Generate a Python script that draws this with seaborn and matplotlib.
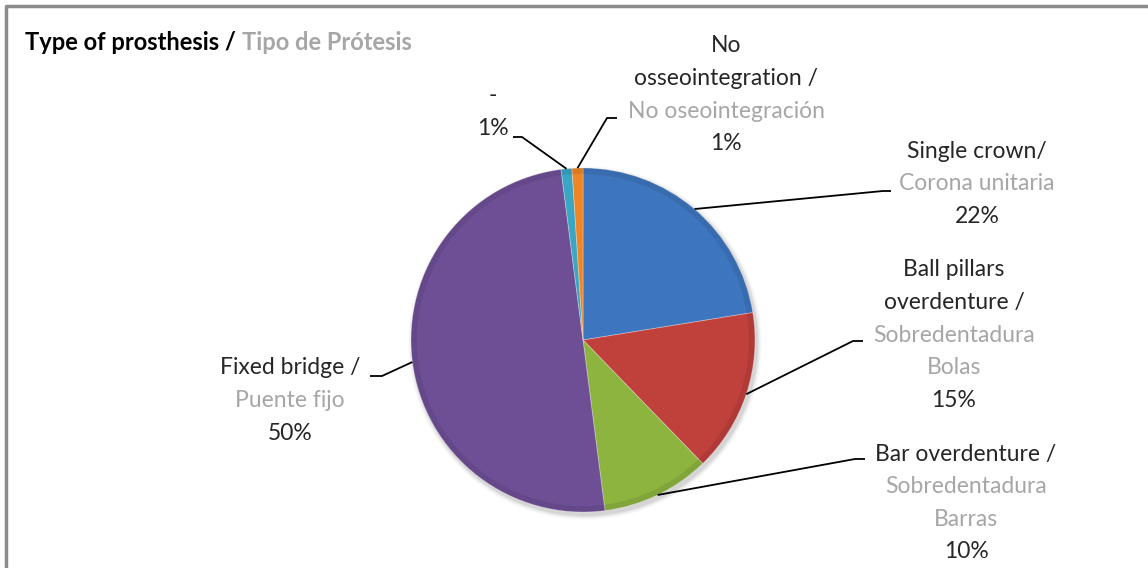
import numpy as np
import matplotlib
matplotlib.use("Agg")
import matplotlib.pyplot as plt
import seaborn as sns

sns.set_theme(style="white")
plt.rcParams['font.family'] = ['Lato', 'DejaVu Sans']

# data: slices clockwise from 12 o'clock
labels_en = ["Single crown/", "Ball pillars\noverdenture /", "Bar overdenture /",
             "Fixed bridge /", "-", "No\nosseointegration /"]
labels_es = ["Corona unitaria", "Sobredentadura\nBolas", "Sobredentadura\nBarras",
             "Puente fijo", "", "No oseointegración"]
counts = [22, 15, 10, 49, 1, 1]
colors = ["#3D76BE", "#C0403C", "#8DB43F", "#6E4F96", "#3AA6C3", "#EF8525"]

# layout (pixel space, y measured from top)
W, H = 1148, 568
cx, cy, rad = 583, 340, 172
label_pos = [(977, 151), (954, 270), (966, 454), (290, 368), (493, 96), (726, 46)]
knees = [((883, 191), (891, 191)), ((853, 341), (863, 341)), ((855, 459), (865, 459)),
         ((382, 376), (370, 376)), ((522, 137), (513, 137)), ((607, 118), (617, 118))]
line_h = 32.6
fs = 16.5

fig = plt.figure(figsize=(W / 100, H / 100), dpi=100)
ax = fig.add_axes([0, 0, 1, 1])

# soft shadow under the pie
for i, a in enumerate(np.linspace(0.05, 0.015, 5)):
    ax.add_patch(plt.Circle((cx + 2, H - cy - 3), rad + 1 + i, color='black', alpha=a, lw=0))

wedges, _ = ax.pie(counts, colors=colors, startangle=90, counterclock=False,
                   center=(cx, H - cy), radius=rad, frame=True,
                   wedgeprops=dict(linewidth=0.6, edgecolor=(1, 1, 1, 0.35)))
# darker rim for bevel look
ax.pie(counts, colors=['black'] * len(counts), startangle=90, counterclock=False,
       center=(cx, H - cy), radius=rad, frame=True,
       wedgeprops=dict(width=6, alpha=0.08, linewidth=0))
ax.set_xlim(0, W)
ax.set_ylim(0, H)
ax.set_aspect('equal')
ax.axis('off')

total = sum(counts)
for w, en, es, c, (lx, ly), (k1, k2) in zip(wedges, labels_en, labels_es, counts, label_pos, knees):
    mid = np.deg2rad((w.theta1 + w.theta2) / 2)
    px, py = cx + rad * np.cos(mid), (H - cy) + rad * np.sin(mid)
    ax.plot([px, k1[0], k2[0]], [py, H - k1[1], H - k2[1]], color='black', lw=1.3,
            solid_capstyle='butt')
    lines = [(t, '#262626') for t in en.split('\n')]
    if es:
        lines += [(t, '#A6A6A6') for t in es.split('\n')]
    lines.append((f"{round(100 * c / total)}%", '#262626'))
    for j, (t, col) in enumerate(lines):
        ax.text(lx, H - (ly + j * line_h), t, ha='center', va='center', fontsize=fs, color=col)

# title
t1 = ax.text(25, H - 42, "Type of prosthesis / ", fontsize=17, fontweight='bold',
             color='black', ha='left', va='center')
fig.canvas.draw()
bb = t1.get_window_extent()
ax.text(bb.x1, H - 42, "Tipo de Prótesis", fontsize=17, fontweight='bold',
        color='#A6A6A6', ha='left', va='center')

# chart border (left and top edges visible)
ax.plot([6, 6, W], [0, H - 6, H - 6], color='#8C8C8C', lw=2.5, solid_capstyle='butt')

fig.savefig("out.png", dpi=100)
